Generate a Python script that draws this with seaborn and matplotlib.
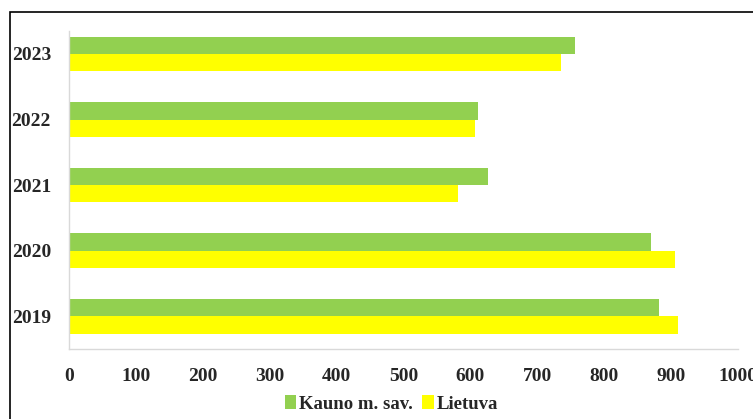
import matplotlib
matplotlib.use("Agg")
import matplotlib.pyplot as plt
import seaborn as sns
import pandas as pd
from matplotlib.patches import Rectangle

years = ["2023", "2022", "2021", "2020", "2019"]
kaunas = [757, 612, 627, 870, 882]
lietuva = [735, 607, 582, 906, 910]
series_names = ["Kauno m. sav.", "Lietuva"]
x_ticks = [0, 100, 200, 300, 400, 500, 600, 700, 800, 900, 1000]

df = pd.DataFrame({
    "year": years * 2,
    "value": kaunas + lietuva,
    "series": [series_names[0]] * len(years) + [series_names[1]] * len(years),
})

sns.set_style("white")
plt.rcParams["font.family"] = ["Liberation Serif", "DejaVu Serif"]

fig = plt.figure(figsize=(7.53, 4.19), dpi=100)
ax = fig.add_axes([69 / 753, 1 - 349 / 419, (738 - 69) / 753, (349 - 31) / 419])

sns.barplot(data=df, y="year", x="value", hue="series", order=years,
            hue_order=series_names, palette=["#92D050", "#FFFF00"],
            saturation=1, orient="h", width=0.53, ax=ax, legend=True,
            linewidth=0)

ax.set_xlim(0, 1000)
ax.set_ylim(4.5, -0.35)
ax.set_xticks(x_ticks)
ax.set_xticklabels([str(t) for t in x_ticks], fontsize=14, fontweight="bold")
for lab in ax.get_yticklabels():
    lab.set_fontsize(14)
    lab.set_fontweight("bold")
ax.set_xlabel("")
ax.set_ylabel("")
ax.tick_params(axis="both", length=0)
ax.tick_params(axis="x", pad=14)
ax.tick_params(axis="y", pad=13)
for s in ["top", "right"]:
    ax.spines[s].set_visible(False)
for s in ["left", "bottom"]:
    ax.spines[s].set_color("#D9D9D9")
    ax.spines[s].set_linewidth(1.0)

leg = ax.legend(loc="center", bbox_to_anchor=(0.482, (349 - 404) / 318), ncol=2,
                frameon=False, handlelength=0.6, handleheight=0.7,
                handletextpad=0.15, columnspacing=0.5,
                prop={"family": "Liberation Serif", "weight": "bold", "size": 13.5})

fig.patches.append(Rectangle((10 / 753, -0.1), 1.2, 1 - 12 / 419 + 0.1,
                             transform=fig.transFigure, fill=False,
                             edgecolor="black", linewidth=1.2))

fig.savefig("out.png", dpi=100)
